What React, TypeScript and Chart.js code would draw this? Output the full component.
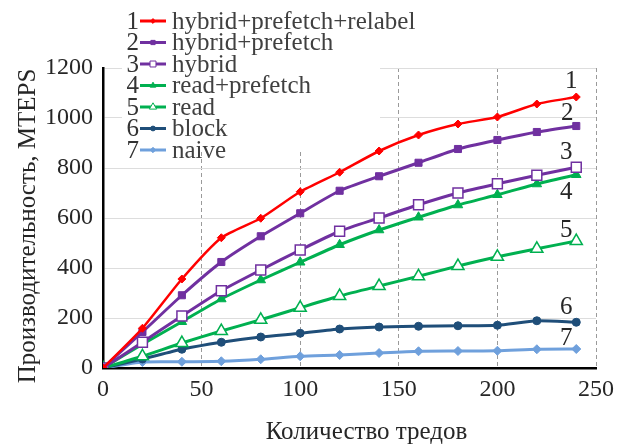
import React, { useEffect, useRef } from 'react';
import { Chart, registerables } from 'chart.js';

Chart.register(...registerables);

// ---- data ----
const threads = [0, 20, 40, 60, 80, 100, 120, 140, 160, 180, 200, 220, 240];
const hybridPrefetchRelabel = [0, 159, 356, 521, 599, 705, 783, 868, 932, 976, 1004, 1056, 1084];
const hybridPrefetch = [0, 144, 291, 424, 527, 619, 709, 767, 821, 876, 912, 944, 968];
const hybrid = [0, 103, 208, 309, 392, 472, 547, 600, 653, 700, 737, 771, 803];
const readPrefetch = [0, 95, 185, 276, 352, 423, 493, 552, 603, 652, 693, 736, 773];
const read = [0, 47, 100, 148, 193, 241, 288, 328, 367, 408, 445, 477, 508];
const block = [0, 36, 75, 103, 124, 139, 156, 164, 167, 169, 171, 189, 183];
const naive = [0, 24, 25, 27, 35, 47, 52, 60, 67, 68, 69, 75, 76];

const seriesNames = [
  'hybrid+prefetch+relabel',
  'hybrid+prefetch',
  'hybrid',
  'read+prefetch',
  'read',
  'block',
  'naive',
];
const seriesNumbers = ['1', '2', '3', '4', '5', '6', '7'];
const xTickValues = [0, 50, 100, 150, 200, 250];
const yTickValues = [0, 200, 400, 600, 800, 1000, 1200];
const xTitle = 'Количество тредов';
const yTitle = 'Производительность, MTEPS';

// ---- styles ----
const FONT = '"Liberation Serif", "Times New Roman", Tinos, "DejaVu Serif", serif';
const styles = [
  { color: '#FF0000', shape: 'rectRot', r: 4, fill: '#FF0000', bw: 1, lw: 2.5 },
  { color: '#7030A0', shape: 'rect', r: 5, fill: '#7030A0', bw: 1, lw: 3 },
  { color: '#7030A0', shape: 'rect', r: 7, fill: '#FFFFFF', bw: 1.5, lw: 3 },
  { color: '#00B050', shape: 'triangle', r: 5.5, fill: '#00B050', bw: 1, lw: 3 },
  { color: '#00B050', shape: 'triangle', r: 7, fill: '#FFFFFF', bw: 1.5, lw: 3 },
  { color: '#1F4E79', shape: 'circle', r: 4, fill: '#1F4E79', bw: 1, lw: 3 },
  { color: '#6FA0DC', shape: 'rectRot', r: 4.5, fill: '#6FA0DC', bw: 1, lw: 3 },
];
const endLabelOffsets = [
  [-5, -16],
  [-9, -13],
  [-10, -15],
  [-10, 18],
  [-10, -11],
  [-10, -15],
  [-10, -11],
];

function drawMarker(ctx: CanvasRenderingContext2D, shape: string, x: number, y: number, r: number, fill: string, stroke: string, lw: number) {
  ctx.beginPath();
  if (shape === 'circle') {
    ctx.arc(x, y, r, 0, Math.PI * 2);
  } else if (shape === 'rect') {
    const s = r * Math.SQRT1_2;
    ctx.rect(x - s, y - s, 2 * s, 2 * s);
  } else if (shape === 'rectRot') {
    ctx.moveTo(x, y - r);
    ctx.lineTo(x + r, y);
    ctx.lineTo(x, y + r);
    ctx.lineTo(x - r, y);
    ctx.closePath();
  } else if (shape === 'triangle') {
    ctx.moveTo(x, y - r);
    ctx.lineTo(x + r * 0.866, y + r * 0.5);
    ctx.lineTo(x - r * 0.866, y + r * 0.5);
    ctx.closePath();
  }
  ctx.fillStyle = fill;
  ctx.fill();
  ctx.lineWidth = lw;
  ctx.strokeStyle = stroke;
  ctx.stroke();
}

const legendPlugin = {
  id: 'customLegend',
  beforeDatasetsDraw(chart: any) {
    const ctx = chart.ctx as CanvasRenderingContext2D;
    ctx.save();
    ctx.fillStyle = '#FFFFFF';
    ctx.fillRect(122, 0, 258, 152);
    const y0 = 21;
    const dy = 21.5;
    seriesNames.forEach((name, i) => {
      const y = y0 + i * dy;
      const st = styles[i];
      ctx.fillStyle = '#333333';
      ctx.font = `25px ${FONT}`;
      ctx.textBaseline = 'middle';
      ctx.textAlign = 'right';
      ctx.fillText(seriesNumbers[i], 139, y + 1);
      ctx.beginPath();
      ctx.moveTo(140, y);
      ctx.lineTo(166, y);
      ctx.strokeStyle = st.color;
      ctx.lineWidth = 3;
      ctx.stroke();
      drawMarker(ctx, st.shape, 153, y, st.r * 0.6, st.fill, st.color, 1);
      ctx.fillStyle = '#404040';
      ctx.textAlign = 'left';
      ctx.fillText(name, 172, y + 1);
    });
    ctx.restore();
  },
  afterDatasetsDraw(chart: any) {
    const ctx = chart.ctx as CanvasRenderingContext2D;
    ctx.save();
    ctx.font = `25px ${FONT}`;
    ctx.fillStyle = '#262626';
    ctx.textAlign = 'center';
    ctx.textBaseline = 'middle';
    chart.data.datasets.forEach((_ds: any, i: number) => {
      const meta = chart.getDatasetMeta(i);
      const last = meta.data[meta.data.length - 1];
      ctx.fillText(seriesNumbers[i], last.x + endLabelOffsets[i][0], last.y + endLabelOffsets[i][1]);
    });
    ctx.restore();
  },
  afterDraw(chart: any) {
    const ctx = chart.ctx as CanvasRenderingContext2D;
    const area = chart.chartArea;
    ctx.save();
    ctx.font = `25px ${FONT}`;
    ctx.fillStyle = '#262626';
    ctx.textAlign = 'center';
    ctx.textBaseline = 'alphabetic';
    // x axis title
    ctx.fillText(xTitle, (area.left + area.right) / 2 + 17, chart.height - 5);
    // y axis title
    ctx.translate(35, (area.top + area.bottom) / 2 + 8);
    ctx.rotate(-Math.PI / 2);
    ctx.fillText(yTitle, 0, 0);
    ctx.restore();
  },
};

const allSeries = [hybridPrefetchRelabel, hybridPrefetch, hybrid, readPrefetch, read, block, naive];

export default function App() {
  const ref = useRef<HTMLCanvasElement | null>(null);
  useEffect(() => {
    document.body.style.margin = '0';
    const canvas = ref.current!;
    const chart = new Chart(canvas, {
      type: 'line',
      data: {
        datasets: allSeries.map((vals, i) => ({
          label: seriesNames[i],
          data: threads.map((t, j) => ({ x: t, y: vals[j] })),
          borderColor: styles[i].color,
          backgroundColor: styles[i].color,
          borderWidth: styles[i].lw,
          pointStyle: styles[i].shape as any,
          pointRadius: styles[i].r,
          pointBackgroundColor: styles[i].fill,
          pointBorderColor: styles[i].color,
          pointBorderWidth: styles[i].bw,
          tension: 0.2,
          fill: false,
        })),
      },
      options: {
        animation: false,
        responsive: false,
        layout: { padding: { top: 68, right: 33, left: 0, bottom: 0 } },
        plugins: { legend: { display: false }, tooltip: { enabled: false } },
        scales: {
          x: {
            type: 'linear',
            min: 0,
            max: 250,
            afterFit: (s: any) => { s.height = 76; },
            afterBuildTicks: (s: any) => { s.ticks = xTickValues.map((v) => ({ value: v })); },
            ticks: { font: { family: FONT, size: 24 }, color: '#262626', padding: 7, callback: (v: any) => String(v) },
            grid: {
              color: (c: any) => (c.tick && c.tick.value === 0 ? 'rgba(0,0,0,0)' : '#9A9A9A'),
              lineWidth: 1,
              drawTicks: false,
            },
            border: { color: '#000000', width: 2.5, dash: [4, 3] },
            title: { display: false },
          },
          y: {
            type: 'linear',
            min: 0,
            max: 1200,
            afterFit: (s: any) => { s.width = 103; },
            afterBuildTicks: (s: any) => { s.ticks = yTickValues.map((v) => ({ value: v })); },
            ticks: { font: { family: FONT, size: 24 }, color: '#262626', padding: 10, callback: (v: any) => String(v) },
            grid: {
              color: (c: any) => (c.tick && c.tick.value === 0 ? 'rgba(0,0,0,0)' : '#DDDDDD'),
              lineWidth: 1,
              drawTicks: false,
            },
            border: { color: '#000000', width: 2.5 },
            title: { display: false },
          },
        },
      },
      plugins: [legendPlugin],
    });
    let alive = true;
    if ((document as any).fonts && (document as any).fonts.ready) {
      (document as any).fonts.ready.then(() => { if (alive) chart.update(); });
    }
    return () => { alive = false; chart.destroy(); };
  }, []);
  return (
    <div style={{ width: 629, height: 444 }}>
      <canvas ref={ref} width={629} height={444} style={{ display: 'block' }} />
    </div>
  );
}
